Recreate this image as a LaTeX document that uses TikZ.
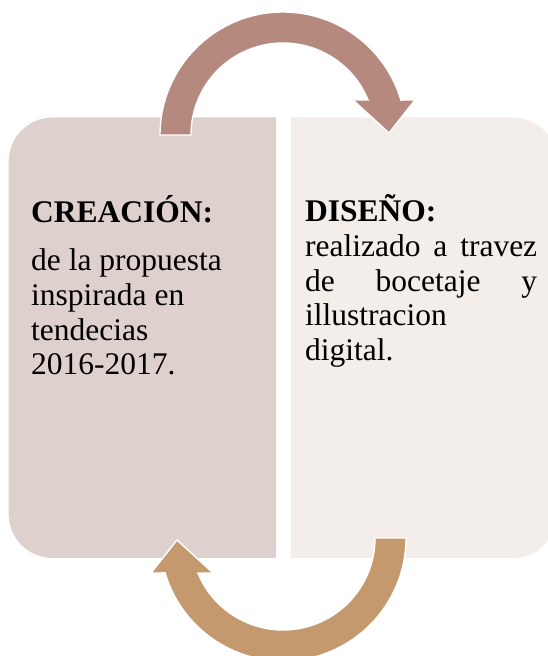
\documentclass[tikz,border=0pt]{standalone}
\usepackage{fontspec}
\setmainfont{Liberation Serif}
\usetikzlibrary{calc}

\definecolor{creafill}{HTML}{DED0CC}
\definecolor{disfill}{HTML}{F3EEEA}
\definecolor{toparrow}{HTML}{B5897D}
\definecolor{botarrow}{HTML}{C3996D}

\tikzset{
  boxtext/.style={anchor=base west, align=left, inner sep=0pt,
    font=\fontsize{31.5}{34.7}\selectfont},
  cyclearrow/.style={draw=white, line width=1.4pt, line join=miter}
}

\begin{document}
\begin{tikzpicture}[x=1pt,y=1pt]

\useasboundingbox (0,0) rectangle (548,656);
\clip (0,0) rectangle (548,656);

\coordinate (topc) at (283,521);
\coordinate (botc) at (283,118);

\fill[creafill] (276,98) -- (276,538.5) -- (52.7,538.5)
  arc[start angle=90, end angle=180, radius=44] -- (8.7,142)
  arc[start angle=180, end angle=270, radius=44] -- cycle;
\fill[disfill] (291,98) -- (291,538.5) -- (513,538.5)
  arc[start angle=90, end angle=0, radius=44] -- (557,142)
  arc[start angle=0, end angle=-90, radius=44] -- cycle;

\filldraw[cyclearrow, fill=toparrow] ($(topc)+(180:123)$)
  arc[start angle=180, end angle=16.5, radius=123]
  -- (415,556) -- (389,523) -- (353,556)
  -- ($(topc)+(22.4:92)$)
  arc[start angle=22.4, end angle=180, radius=92] -- cycle;

\filldraw[cyclearrow, fill=botarrow] ($(botc)+(0:123)$)
  arc[start angle=0, end angle=-163.5, radius=123]
  -- (151,83) -- (177,116) -- (213,83)
  -- ($(botc)+(-157.6:92)$)
  arc[start angle=-157.6, end angle=0, radius=92] -- cycle;

% base is the last line of each block
\node (creatext) [boxtext] at (31,281)
  {\textbf{CREACIÓN:}\\[13.3pt]
   de la propuesta\\ inspirada en\\ tendecias\\ 2016-2017.};

\node (distext) [boxtext] at (305,295.5)
  {\textbf{DISEÑO:}\\
   \makebox[232pt][s]{realizado a travez}\\
   \makebox[232pt][s]{de bocetaje y}\\
   illustracion\\ digital.};

\end{tikzpicture}
\end{document}
